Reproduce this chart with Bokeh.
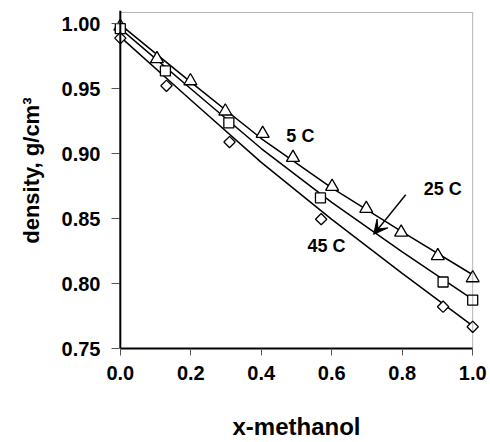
import math
from bokeh.plotting import figure
from bokeh.models import (Range1d, LinearAxis, FixedTicker, PrintfTickFormatter,
                          Label, Arrow, VeeHead, BoxAnnotation, Span)
from bokeh.embed import file_html
from bokeh.resources import INLINE

# measured data points (x-methanol, density g/cm3)
x_5c = [0.0, 0.104, 0.199, 0.298, 0.404, 0.490, 0.601, 0.698, 0.797, 0.901, 1.0]
d_5c = [0.998, 0.973, 0.956, 0.9327, 0.9155, 0.897, 0.8747, 0.8577, 0.8394, 0.8213, 0.8043]
x_25c = [0.0, 0.128, 0.308, 0.568, 0.916, 1.0]
d_25c = [0.9963, 0.9638, 0.9238, 0.866, 0.8012, 0.7873]
x_45c = [0.0, 0.131, 0.310, 0.570, 0.916, 1.0]
d_45c = [0.989, 0.9523, 0.909, 0.8496, 0.7822, 0.7667]

# fitted curves
fit_x = [0.0, 0.2, 0.4, 0.6, 0.8, 1.0]
fit_5c = [0.9994, 0.9552, 0.9117, 0.8737, 0.8398, 0.8068]
fit_25c = [0.9963, 0.9500, 0.9040, 0.8625, 0.8245, 0.7878]
fit_45c = [0.9900, 0.9414, 0.8933, 0.8494, 0.8078, 0.7674]

x_ticks = [0.0, 0.2, 0.4, 0.6, 0.8, 1.0]
y_ticks = [0.75, 0.80, 0.85, 0.90, 0.95, 1.00]

FONT = "Liberation Sans"
Y_TOP = 1.0088

p = figure(width=490, height=442, x_range=Range1d(-0.025, 1.025), y_range=Range1d(0.75, 1.0103),
           output_backend="svg", toolbar_location=None, x_axis_type=None, y_axis_type=None,
           min_border_left=111, min_border_right=9, min_border_top=10, min_border_bottom=91)
p.outline_line_color = None
p.background_fill_color = "white"
p.border_fill_color = "white"

# y-axis title placed on the left as a title
p.title.text = "density, g/cm³"
p.title_location = "left"
p.title.align = "right"
p.title.offset = 87
p.title.standoff = 30
p.title.text_font = FONT
p.title.text_font_style = "bold"
p.title.text_font_size = "22px"
p.title.text_color = "black"

box = BoxAnnotation(left=0, right=1, bottom=0.75, top=Y_TOP, fill_alpha=0,
                    line_color="black", line_width=1)
p.add_layout(box)
p.add_layout(Span(location=0, dimension="height", line_color="black", line_width=2))

def style_axis(ax):
    ax.axis_line_color = "black"
    ax.axis_line_width = 2
    ax.major_tick_line_color = "#555555"
    ax.major_tick_line_width = 1
    ax.minor_tick_in = 0
    ax.minor_tick_out = 0
    ax.major_label_text_font = FONT
    ax.major_label_text_font_style = "bold"
    ax.major_label_text_font_size = "20px"
    ax.major_label_text_color = "black"

xaxis = LinearAxis(bounds=(0, 1), ticker=FixedTicker(ticks=x_ticks),
                   formatter=PrintfTickFormatter(format="%.1f"))
style_axis(xaxis)
xaxis.major_tick_in = 0
xaxis.major_tick_out = 7
xaxis.major_label_standoff = 10
xaxis.axis_label = "x-methanol"
xaxis.axis_label_text_font = FONT
xaxis.axis_label_text_font_style = "bold"
xaxis.axis_label_text_font_size = "24px"
xaxis.axis_label_text_color = "black"
xaxis.axis_label_standoff = 30
p.add_layout(xaxis, "below")

yaxis = LinearAxis(ticker=FixedTicker(ticks=y_ticks),
                   formatter=PrintfTickFormatter(format="%.2f"))
style_axis(yaxis)
yaxis.axis_line_color = None
yaxis.major_tick_in = 8
yaxis.major_tick_out = 0
yaxis.major_label_standoff = 11
p.add_layout(yaxis, "left")

# fitted lines
for fy in (fit_5c, fit_25c, fit_45c):
    p.line(fit_x, fy, line_color="black", line_width=1.5)

# markers
p.scatter(x_5c, d_5c, marker="triangle", size=13, fill_color="white",
          line_color="black", line_width=1.3)
p.scatter(x_25c, d_25c, marker="square", size=10, fill_color="white",
          line_color="black", line_width=1.3)
p.scatter(x_45c, d_45c, marker="square", size=8, angle=math.pi / 4, fill_color="white",
          line_color="black", line_width=1.3)

def lab(x, y, t):
    p.add_layout(Label(x=x, y=y, text=t, text_font=FONT, text_font_style="bold",
                       text_font_size="18px", text_align="center",
                       text_baseline="middle", text_color="black"))

lab(0.511, 0.9134, "5 C")
lab(0.915, 0.873, "25 C")
lab(0.585, 0.8287, "45 C")

p.add_layout(Arrow(end=VeeHead(size=14, fill_color="black", line_color="black"),
                   x_start=0.81, y_start=0.8684, x_end=0.719, y_end=0.8379,
                   line_color="black", line_width=1.5))

open("out.html", "w").write(file_html(p, INLINE))
